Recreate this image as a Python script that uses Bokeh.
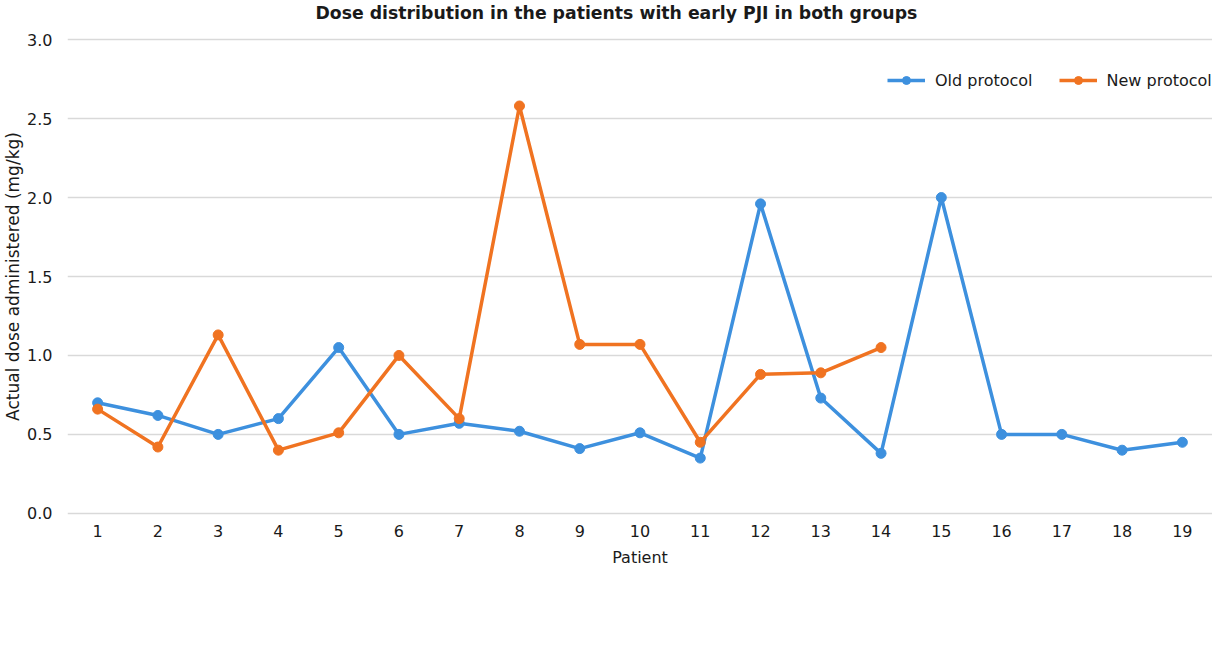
from bokeh.plotting import figure
from bokeh.models import Range1d, FixedTicker, Legend, LegendItem, PrintfTickFormatter, Title
from bokeh.embed import file_html
from bokeh.resources import INLINE

patients = list(range(1, 20))
old_protocol = [0.70, 0.62, 0.50, 0.60, 1.05, 0.50, 0.57, 0.52, 0.41, 0.51,
                0.35, 1.96, 0.73, 0.38, 2.00, 0.50, 0.50, 0.40, 0.45]
new_patients = list(range(1, 15))
new_protocol = [0.66, 0.42, 1.13, 0.40, 0.51, 1.00, 0.60, 2.58, 1.07, 1.07,
                0.45, 0.88, 0.89, 1.05]
y_ticks = [0.0, 0.5, 1.0, 1.5, 2.0, 2.5, 3.0]

FONT = "DejaVu Sans"
BLUE = "#3d90de"
ORANGE = "#f07321"
TXT = "#1a1a1a"

p = figure(width=1212, height=661, output_backend="svg", toolbar_location=None,
           x_range=Range1d(0.5, 19.5), y_range=Range1d(-0.02, 3.02),
           min_border_left=67, min_border_right=0, min_border_top=35, min_border_bottom=145)
p.outline_line_color = None
p.background_fill_color = "white"

p.title.text = "Dose distribution in the patients with early PJI in both groups"
p.title.align = "left"
p.title.offset = 248
p.title.text_font = FONT
p.title.text_font_style = "bold"
p.title.text_font_size = "17.3px"
p.title.text_color = TXT
p.title.standoff = 0

# spacer between the title and the plot area
spacer = Title(text=" ", text_font_size="11px", standoff=0)
p.add_layout(spacer, "above")

p.xaxis.ticker = FixedTicker(ticks=patients)
p.yaxis.ticker = FixedTicker(ticks=y_ticks)
p.yaxis.formatter = PrintfTickFormatter(format="%.1f")
for ax in (p.xaxis[0], p.yaxis[0]):
    ax.axis_line_color = None
    ax.major_tick_line_color = None
    ax.minor_tick_line_color = None
    ax.major_label_text_font = FONT
    ax.major_label_text_font_size = "16px"
    ax.major_label_text_color = TXT
    ax.axis_label_text_font = FONT
    ax.axis_label_text_font_style = "normal"
    ax.axis_label_text_color = TXT
p.xaxis.axis_label = "Patient"
p.xaxis.axis_label_text_font_size = "16px"
p.yaxis.axis_label = "Actual dose administered (mg/kg)"
p.yaxis.axis_label_text_font_size = "17px"
p.xaxis.major_label_standoff = 2
p.xaxis.axis_label_standoff = 8
p.yaxis.major_label_standoff = 9
p.yaxis.axis_label_standoff = 1

p.xgrid.grid_line_color = None
p.ygrid.grid_line_color = "#d9d9d9"
p.ygrid.grid_line_width = 1.5

l_old = p.line(patients, old_protocol, line_color=BLUE, line_width=3.5)
s_old = p.scatter(patients, old_protocol, size=10, fill_color=BLUE, line_color=BLUE)
l_new = p.line(new_patients, new_protocol, line_color=ORANGE, line_width=3.5)
s_new = p.scatter(new_patients, new_protocol, size=10, fill_color=ORANGE, line_color=ORANGE)

legend = Legend(items=[LegendItem(label="Old protocol", renderers=[l_old, s_old]),
                       LegendItem(label="New protocol", renderers=[l_new, s_new])],
                orientation="horizontal", location=(820, 426))
legend.border_line_color = None
legend.background_fill_alpha = 0
legend.label_text_font = FONT
legend.label_text_font_size = "16px"
legend.label_text_color = TXT
legend.glyph_width = 38
legend.label_standoff = 10
legend.spacing = 26
legend.margin = 0
legend.padding = 0
p.add_layout(legend, "center")

open("out.html", "w").write(file_html(p, INLINE))
